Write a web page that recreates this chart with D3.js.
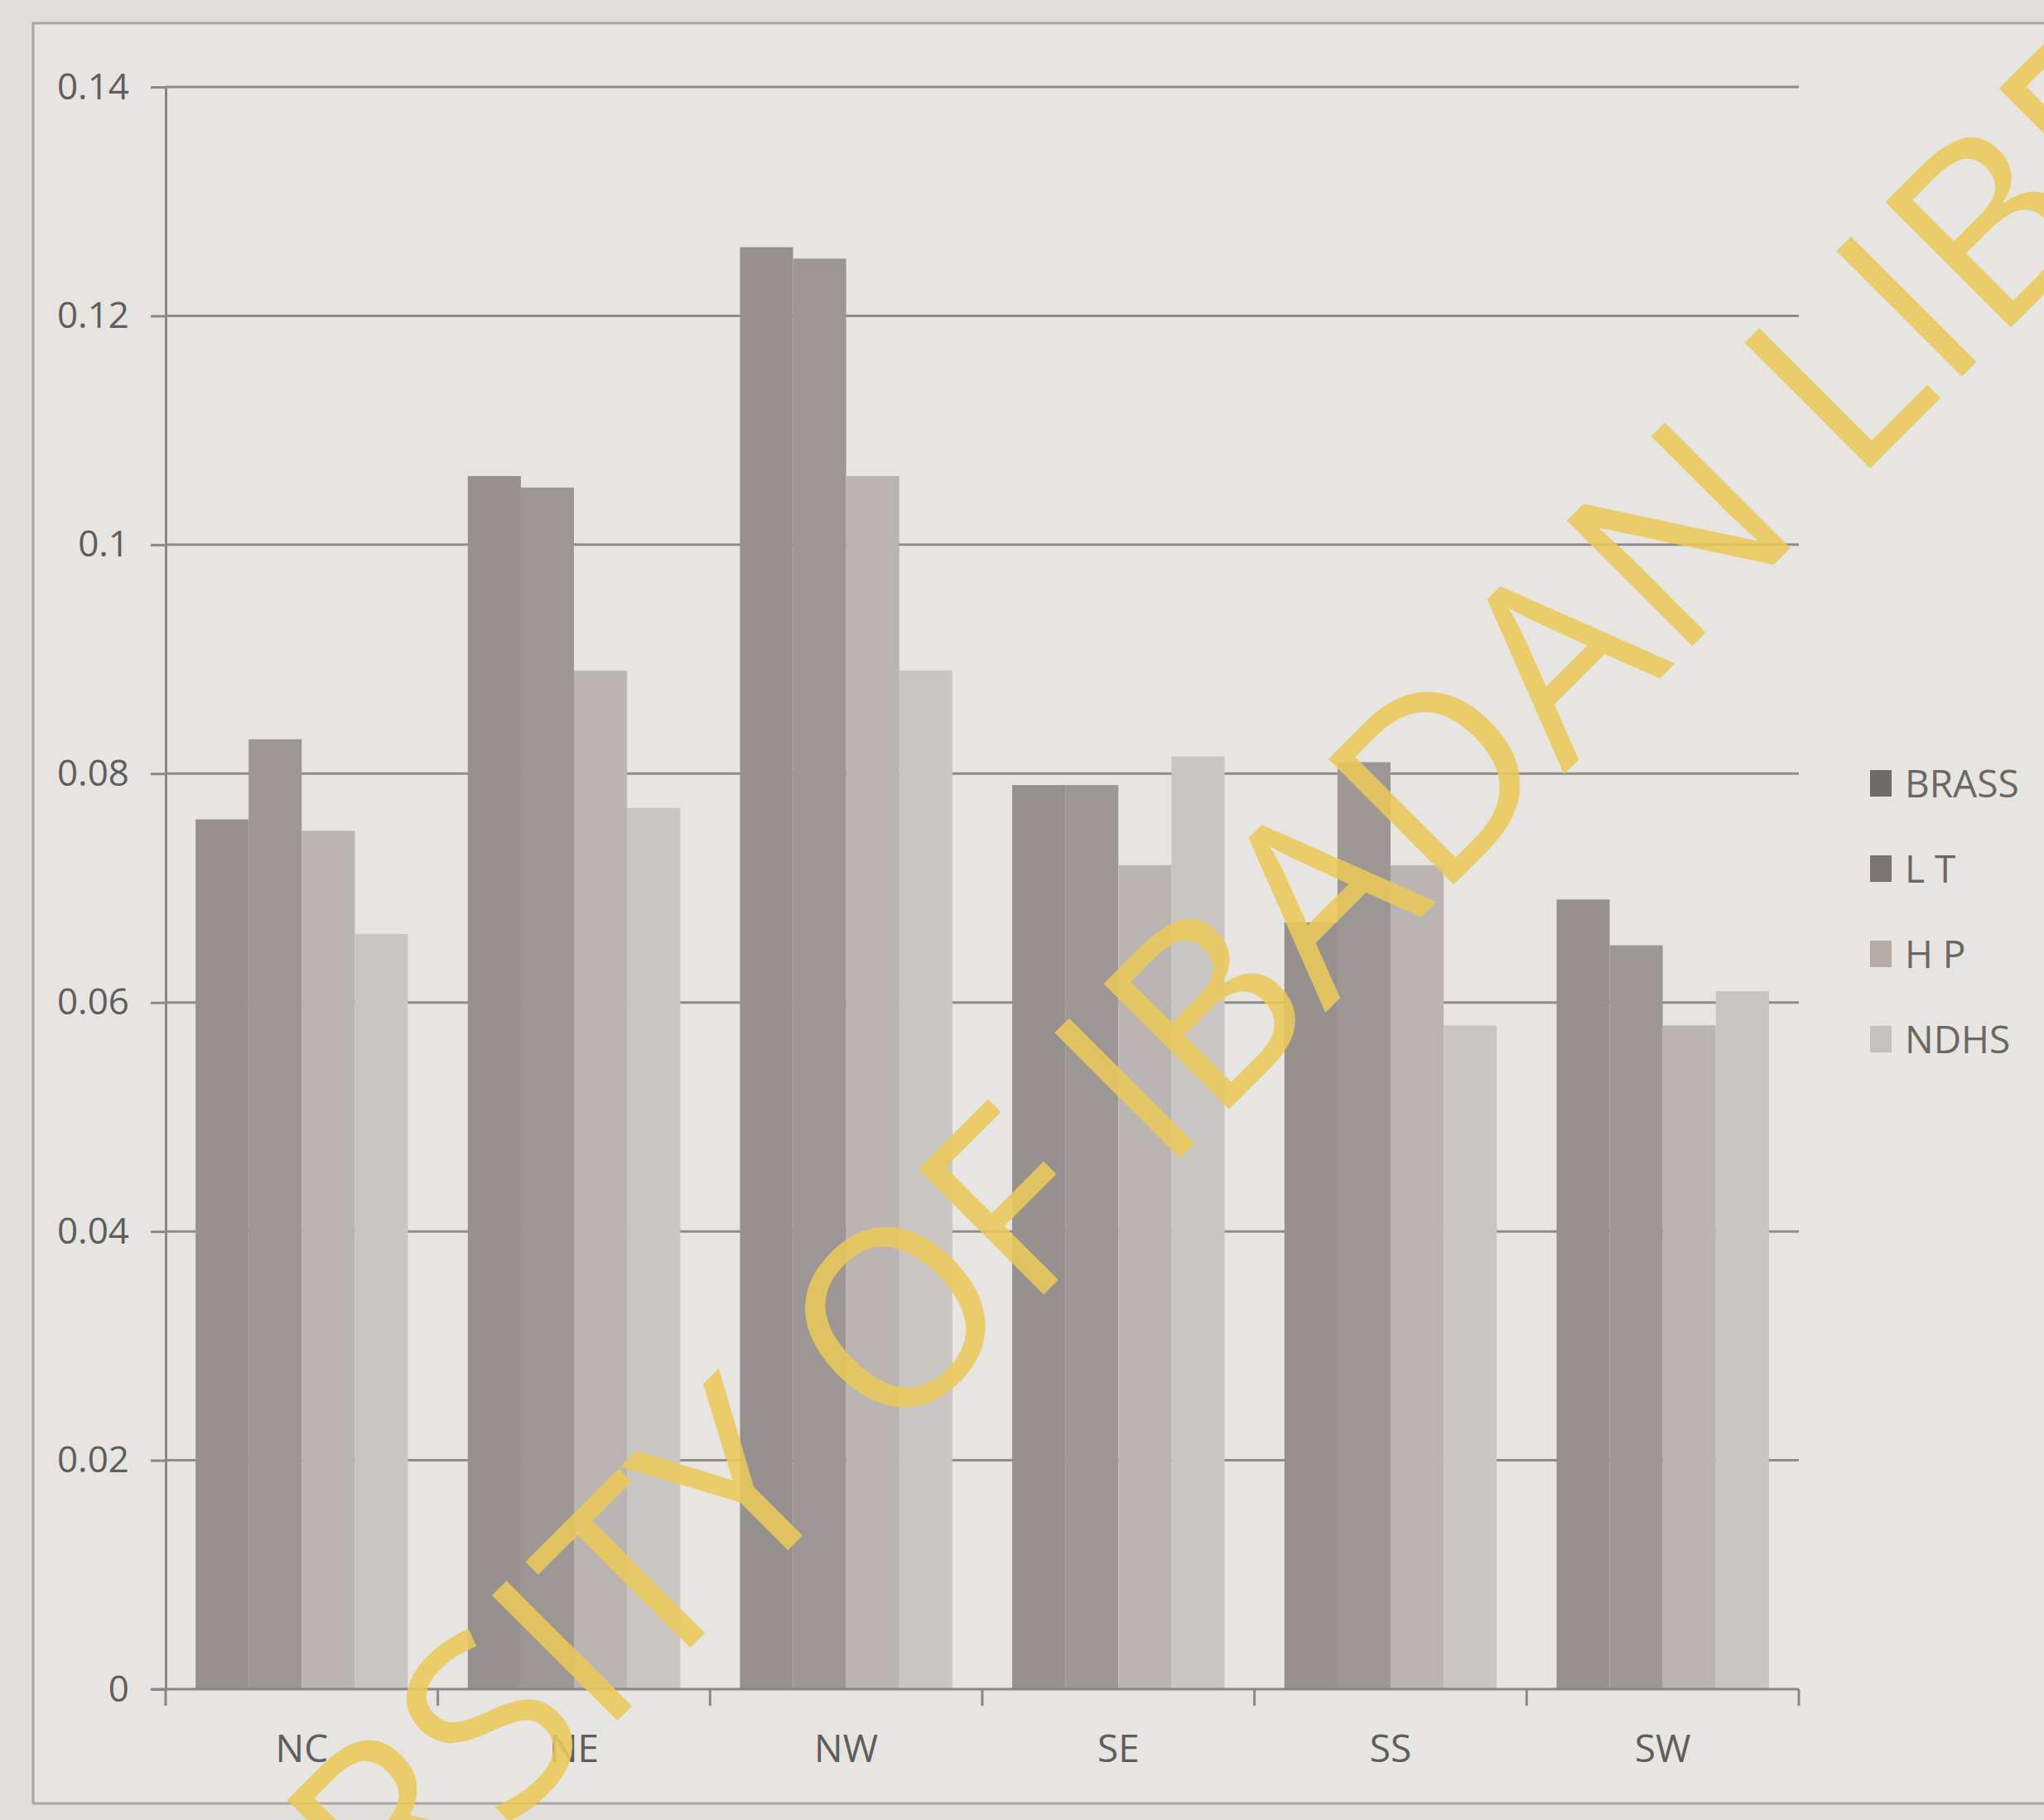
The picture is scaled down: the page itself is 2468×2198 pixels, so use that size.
<!DOCTYPE html>
<html>
<head>
<meta charset="utf-8">
<script src="https://cdn.jsdelivr.net/npm/d3@7"></script>
<style>
  body { margin: 0; background: #e3e1de; }
  svg { display: block; }
</style>
</head>
<body>
<div id="graph"></div>
<script>
var regions = ['NC', 'NE', 'NW', 'SE', 'SS', 'SW']
var seriesNames = ['BRASS', 'LT', 'HP', 'NDHS']
var legendLabels = ['BRASS', 'L T', 'H P', 'NDHS']

var brass = [0.076, 0.106, 0.126, 0.079, 0.067, 0.069]
var lt    = [0.083, 0.105, 0.125, 0.079, 0.081, 0.065]
var hp    = [0.075, 0.089, 0.106, 0.072, 0.072, 0.058]
var ndhs  = [0.066, 0.077, 0.089, 0.0815, 0.058, 0.061]

var yTicks = [0, 0.02, 0.04, 0.06, 0.08, 0.1, 0.12, 0.14]

var colors = ['#96908e', '#9c9694', '#bab5b2', '#c9c5c2']
var legendColors = ['#6f6a66', '#7b7470', '#b3ada6', '#c6c1bd']

var width = 2468, height = 2198
var margin = {left: 200, right: 296, top: 105, bottom: 158}

var svg = d3.select('#graph').append('svg')
  .attr('width', width).attr('height', height)

svg.append('rect').attr('width', width).attr('height', height).attr('fill', '#e1dfdc')

// chart area border
svg.append('rect')
  .attr('x', 40).attr('y', 28).attr('width', width).attr('height', 2150)
  .attr('fill', '#e7e5e2').attr('stroke', '#a9a7a4').attr('stroke-width', 3)

var table = regions.map((r, i) => ({
  region: r,
  values: [brass[i], lt[i], hp[i], ndhs[i]]
}))

var x0 = d3.scaleBand().domain(regions)
  .range([margin.left, width - margin.right])
  .paddingInner(0.22).paddingOuter(0.11)

var x1 = d3.scaleBand().domain(seriesNames).range([0, x0.bandwidth()])

var y = d3.scaleLinear().domain([0, 0.14]).range([height - margin.bottom, margin.top])

// gridlines
svg.append('g')
  .selectAll('line').data(yTicks.slice(1)).join('line')
  .attr('x1', margin.left).attr('x2', width - margin.right)
  .attr('y1', d => y(d)).attr('y2', d => y(d))
  .attr('stroke', '#8f8d8a').attr('stroke-width', 3)

// bars
var groups = svg.append('g').selectAll('g').data(table).join('g')
  .attr('transform', d => `translate(${x0(d.region)},0)`)

groups.selectAll('rect')
  .data(d => d.values.map((v, i) => ({key: seriesNames[i], value: v, i})))
  .join('rect')
  .attr('x', d => x1(d.key))
  .attr('width', x1.bandwidth())
  .attr('y', d => y(d.value))
  .attr('height', d => y(0) - y(d.value))
  .attr('fill', d => colors[d.i])

// y axis
var yAxis = svg.append('g')
  .attr('transform', `translate(${margin.left},0)`)
  .call(d3.axisLeft(y).tickValues(yTicks).tickFormat(d => d3.format('')(+d.toFixed(2))).tickSize(18).tickPadding(26))
yAxis.select('.domain').attr('stroke', '#8a8885').attr('stroke-width', 3)
yAxis.selectAll('.tick line').attr('stroke', '#8a8885').attr('stroke-width', 3)
yAxis.selectAll('text')
  .attr('font-family', 'Open Sans, sans-serif').attr('font-size', 44).attr('fill', '#5f5e5c')

// x axis
var xAxis = svg.append('g')
  .attr('transform', `translate(0,${y(0)})`)
xAxis.append('line')
  .attr('x1', margin.left - 18).attr('x2', width - margin.right)
  .attr('stroke', '#8a8885').attr('stroke-width', 3)
xAxis.selectAll('.sep').data(regions.concat(['end'])).join('line')
  .attr('class', 'sep')
  .attr('x1', (d, i) => margin.left + i * x0.step())
  .attr('x2', (d, i) => margin.left + i * x0.step())
  .attr('y1', 0).attr('y2', 20)
  .attr('stroke', '#8a8885').attr('stroke-width', 3)
xAxis.selectAll('text').data(regions).join('text')
  .attr('x', d => x0(d) + x0.bandwidth() / 2)
  .attr('y', 88)
  .attr('text-anchor', 'middle')
  .attr('font-family', 'Open Sans, sans-serif').attr('font-size', 46).attr('fill', '#5f5e5c')
  .text(d => d)

// legend
var legend = svg.append('g').attr('transform', 'translate(2258,947)')
var item = legend.selectAll('g').data(legendLabels).join('g')
  .attr('transform', (d, i) => `translate(0,${i * 103})`)
item.append('rect')
  .attr('x', 0).attr('y', -17).attr('width', 26).attr('height', 32)
  .attr('fill', (d, i) => legendColors[i])
item.append('text')
  .attr('x', 42).attr('y', 0).attr('dy', '0.35em')
  .attr('font-family', 'Open Sans, sans-serif').attr('font-size', 46).attr('fill', '#6b6764')
  .text(d => d)

// watermark
svg.append('text')
  .attr('transform', 'translate(1385,1290) rotate(-45)')
  .attr('text-anchor', 'middle').attr('dy', '0.35em')
  .attr('font-family', 'Open Sans, sans-serif').attr('font-size', 300)
  .attr('fill', '#ebc85a').attr('fill-opacity', 0.88)
  .text('UNIVERSITY OF IBADAN LIBRARY')
</script>
</body>
</html>
